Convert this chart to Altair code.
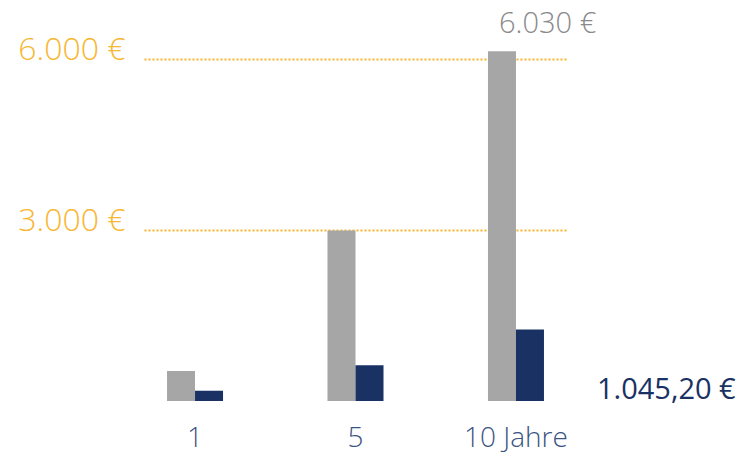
import altair as alt
import pandas as pd

years = ["1", "5", "10 Jahre"]
series = ["Gesamt", "Kosten"]
gray_values = [526, 2990, 6130]
navy_values = [180, 625, 1255]
ref_values = [3000, 6000]
ref_labels = ["3.000 €", "6.000 €"]
top_label = "6.030 €"
bottom_label = "1.045,20 €"

rows = []
for y, g, n in zip(years, gray_values, navy_values):
    rows.append({"Jahr": y, "Serie": series[0], "Wert": g})
    rows.append({"Jahr": y, "Serie": series[1], "Wert": n})
df = pd.DataFrame(rows)

label_expr = ("datum.value == %d ? '%s' : (datum.value == %d ? '%s' : '')"
              % (ref_values[0], ref_labels[0], ref_values[1], ref_labels[1]))

x_enc = alt.X("Jahr:N", sort=years, scale=alt.Scale(paddingInner=0.651, paddingOuter=0.1435),
              axis=alt.Axis(title=None, domain=False, ticks=False, labelAngle=0,
                            labelFont="Open Sans", labelFontWeight=300, labelFontSize=28,
                            labelColor="#3b5583", labelPadding=45, labelBaseline="alphabetic"))
y_enc = alt.Y("Wert:Q", scale=alt.Scale(domain=[0, 6800], nice=False),
              axis=alt.Axis(title=None, domain=False, ticks=False, values=ref_values,
                            labelExpr=label_expr, labelFont="Open Sans", labelFontWeight=300,
                            labelFontSize=32, labelColor="#f7b733", labelPadding=19,
                            labelBaseline="alphabetic", labelOffset=1,
                            grid=True, gridColor="#f7b52e", gridDash=[2, 2], gridWidth=2))

bars = alt.Chart(df).mark_bar(clip=False).encode(
    x=x_enc,
    xOffset=alt.XOffset("Serie:N", sort=series, scale=alt.Scale(paddingInner=0, paddingOuter=0)),
    y=y_enc,
    color=alt.Color("Serie:N", sort=series,
                    scale=alt.Scale(domain=series, range=["#a6a6a6", "#1a3263"]), legend=None),
)

top_df = pd.DataFrame({"Jahr": [years[2]], "Wert": [gray_values[2]], "t": [top_label]})
top_text = alt.Chart(top_df).mark_text(
    align="left", baseline="alphabetic", dx=-17, dy=-18, font="Open Sans", fontWeight=300,
    fontSize=29, color="#8a8a8a", clip=False
).encode(x=alt.X("Jahr:N", sort=years), y="Wert:Q", text="t:N")

bot_df = pd.DataFrame({"Jahr": [years[2]], "Wert": [0], "t": [bottom_label]})
bot_text = alt.Chart(bot_df).mark_text(
    align="left", baseline="alphabetic", dx=81, dy=-2, font="Open Sans", fontWeight=400,
    fontSize=29, color="#1a3263", clip=False
).encode(x=alt.X("Jahr:N", sort=years), y="Wert:Q", text="t:N")

chart = alt.layer(bars, top_text, bot_text).properties(
    width=423, height=388,
    background="white",
    autosize=alt.AutoSizeParams(type="none"),
    padding={"left": 136, "top": 5, "right": 169, "bottom": 51},
).configure_view(stroke=None)

chart.save("out.html", embed_options={"renderer": "svg", "actions": False})
